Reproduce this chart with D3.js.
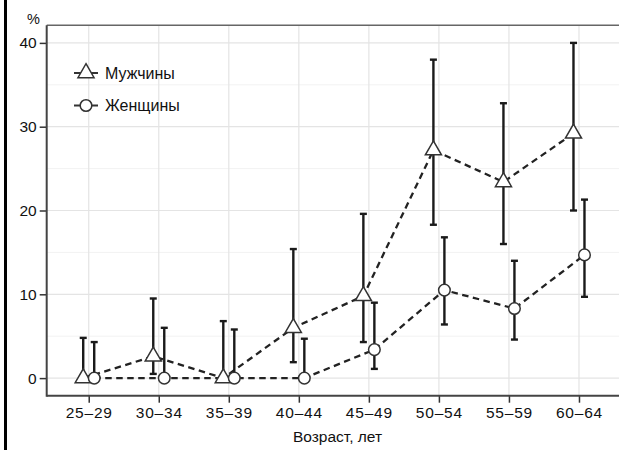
<!DOCTYPE html>
<html lang="ru">

<head>
    <meta charset="UTF-8">
    <title>Возраст, лет</title>
    <style>
        body { margin: 0; background: #fff; }
        svg { display: block; font-family: "Liberation Sans", Arial, sans-serif; }
        .tick text { fill: #111; }
    </style>
</head>

<body>
    <svg id="chart"></svg>

    <script src="https://d3js.org/d3.v7.min.js"></script>
    <script>
        // Data
        var ages = ["25–29", "30–34", "35–39", "40–44", "45–49", "50–54", "55–59", "60–64"];
        var men = [0, 2.6, 0, 6.0, 9.8, 27.2, 23.4, 29.2];
        var menLow = [0, 0.5, 0, 1.9, 4.3, 18.3, 16.0, 20.0];
        var menHigh = [4.8, 9.5, 6.8, 15.4, 19.6, 38.0, 32.8, 40.0];
        var women = [0, 0, 0, 0, 3.4, 10.5, 8.3, 14.7];
        var womenLow = [0, 0, 0, 0, 1.1, 6.4, 4.6, 9.7];
        var womenHigh = [4.3, 6.0, 5.8, 4.7, 9.0, 16.8, 14.0, 21.3];
        var yTicks = [0, 10, 20, 30, 40];
        var yMinor = [5, 15, 25, 35];

        // Constants (panel edges)
        var W = 619, H = 450;
        var pLeft = 46.7, pRight = 621, pTop = 25.3, pBottom = 395.7;
        var dodge = 5.5;

        var svg = d3.select("#chart").attr("width", W).attr("height", H);

        var x = d3.scalePoint().domain(ages).range([pLeft, pRight]).padding(0.6);
        var y = d3.scaleLinear().domain([-2.1, 42.1]).range([pBottom, pTop]);

        // left black bar
        svg.append("rect").attr("x", 4).attr("y", 0).attr("width", 3).attr("height", H).attr("fill", "#000");

        // Grid
        var grid = svg.append("g");
        grid.selectAll(".minor").data(yMinor).enter().append("line")
            .attr("x1", pLeft).attr("x2", pRight)
            .attr("y1", d => y(d)).attr("y2", d => y(d))
            .attr("stroke", "#f2f2f2").attr("stroke-width", 1);
        grid.selectAll(".hmaj").data(yTicks).enter().append("line")
            .attr("x1", pLeft).attr("x2", pRight)
            .attr("y1", d => y(d)).attr("y2", d => y(d))
            .attr("stroke", "#e4e4e4").attr("stroke-width", 1.2);
        grid.selectAll(".vmaj").data(ages).enter().append("line")
            .attr("x1", d => x(d)).attr("x2", d => x(d))
            .attr("y1", pTop).attr("y2", pBottom)
            .attr("stroke", "#e4e4e4").attr("stroke-width", 1.2);

        // Axes
        var yAxis = svg.append("g")
            .attr("transform", "translate(" + pLeft + ",0)")
            .call(d3.axisLeft(y).tickValues(yTicks).tickSize(7).tickPadding(3));
        yAxis.select(".domain").remove();
        yAxis.selectAll(".tick line").attr("stroke", "#333").attr("stroke-width", 1.5);
        yAxis.selectAll(".tick text").attr("font-size", 15.5).attr("font-family", "Liberation Sans, Arial, sans-serif");

        var xAxis = svg.append("g")
            .attr("transform", "translate(0," + pBottom + ")")
            .call(d3.axisBottom(x).tickSize(7).tickPadding(4));
        xAxis.select(".domain").remove();
        xAxis.selectAll(".tick line").attr("stroke", "#333").attr("stroke-width", 1.5);
        xAxis.selectAll(".tick text").attr("font-size", 15.5).attr("letter-spacing", 0.8)
            .attr("font-family", "Liberation Sans, Arial, sans-serif");

        // panel lines
        svg.append("line").attr("x1", pLeft).attr("x2", pRight).attr("y1", pTop).attr("y2", pTop)
            .attr("stroke", "#666").attr("stroke-width", 1.5);
        svg.append("line").attr("x1", pLeft).attr("x2", pLeft).attr("y1", pTop).attr("y2", pBottom + 1)
            .attr("stroke", "#444").attr("stroke-width", 2);
        svg.append("line").attr("x1", pLeft).attr("x2", pRight).attr("y1", pBottom).attr("y2", pBottom)
            .attr("stroke", "#444").attr("stroke-width", 2);

        // labels
        svg.append("text").attr("x", 33.5).attr("y", 24).attr("text-anchor", "middle")
            .attr("font-size", 14.5).attr("fill", "#111").text("%");
        svg.append("text").attr("x", 337.5).attr("y", 442).attr("text-anchor", "middle")
            .attr("font-size", 15.5).attr("fill", "#111").text("Возраст, лет");

        // Series
        var series = [
            { name: "Мужчины", values: men, low: menLow, high: menHigh, shift: -dodge, shape: "triangle" },
            { name: "Женщины", values: women, low: womenLow, high: womenHigh, shift: dodge, shape: "circle" }
        ];

        var line = d3.line();
        var triangle = d3.symbol().type(d3.symbolTriangle).size(112);

        series.forEach(s => {
            var pts = ages.map((a, i) => [x(a) + s.shift, y(s.values[i])]);
            svg.append("path").attr("d", line(pts))
                .attr("fill", "none").attr("stroke", "#222").attr("stroke-width", 2.3)
                .attr("stroke-dasharray", "6.5,4.5");
        });

        series.forEach(s => {
            var g = svg.append("g").attr("stroke", "#1a1a1a").attr("stroke-width", 2.4);
            ages.forEach((a, i) => {
                var cx = x(a) + s.shift;
                g.append("line").attr("x1", cx).attr("x2", cx)
                    .attr("y1", y(s.low[i])).attr("y2", y(s.high[i]));
                g.append("line").attr("x1", cx - 3.5).attr("x2", cx + 3.5)
                    .attr("y1", y(s.high[i])).attr("y2", y(s.high[i]));
                g.append("line").attr("x1", cx - 3.5).attr("x2", cx + 3.5)
                    .attr("y1", y(s.low[i])).attr("y2", y(s.low[i]));
            });
        });

        var drawMarker = (g, shape, cx, cy) => {
            if (shape === "triangle") {
                g.append("path").attr("d", triangle)
                    .attr("transform", "translate(" + cx + "," + cy + ")")
                    .attr("fill", "#fff").attr("stroke", "#333").attr("stroke-width", 1.5);
            } else {
                g.append("circle").attr("cx", cx).attr("cy", cy).attr("r", 5.8)
                    .attr("fill", "#fff").attr("stroke", "#333").attr("stroke-width", 1.5);
            }
        };

        series.forEach(s => {
            var g = svg.append("g");
            ages.forEach((a, i) => drawMarker(g, s.shape, x(a) + s.shift, y(s.values[i])));
        });

        // Legend
        var legend = svg.append("g");
        series.forEach((s, i) => {
            var ly = 73 + i * 32.5;
            legend.append("line").attr("x1", 74).attr("x2", 98).attr("y1", ly).attr("y2", ly)
                .attr("stroke", "#333").attr("stroke-width", 2);
            drawMarker(legend, s.shape, 86, ly);
            legend.append("text").attr("x", 105).attr("y", ly + 5.5)
                .attr("font-size", 16).attr("fill", "#111").text(s.name);
        });
    </script>
</body>

</html>
